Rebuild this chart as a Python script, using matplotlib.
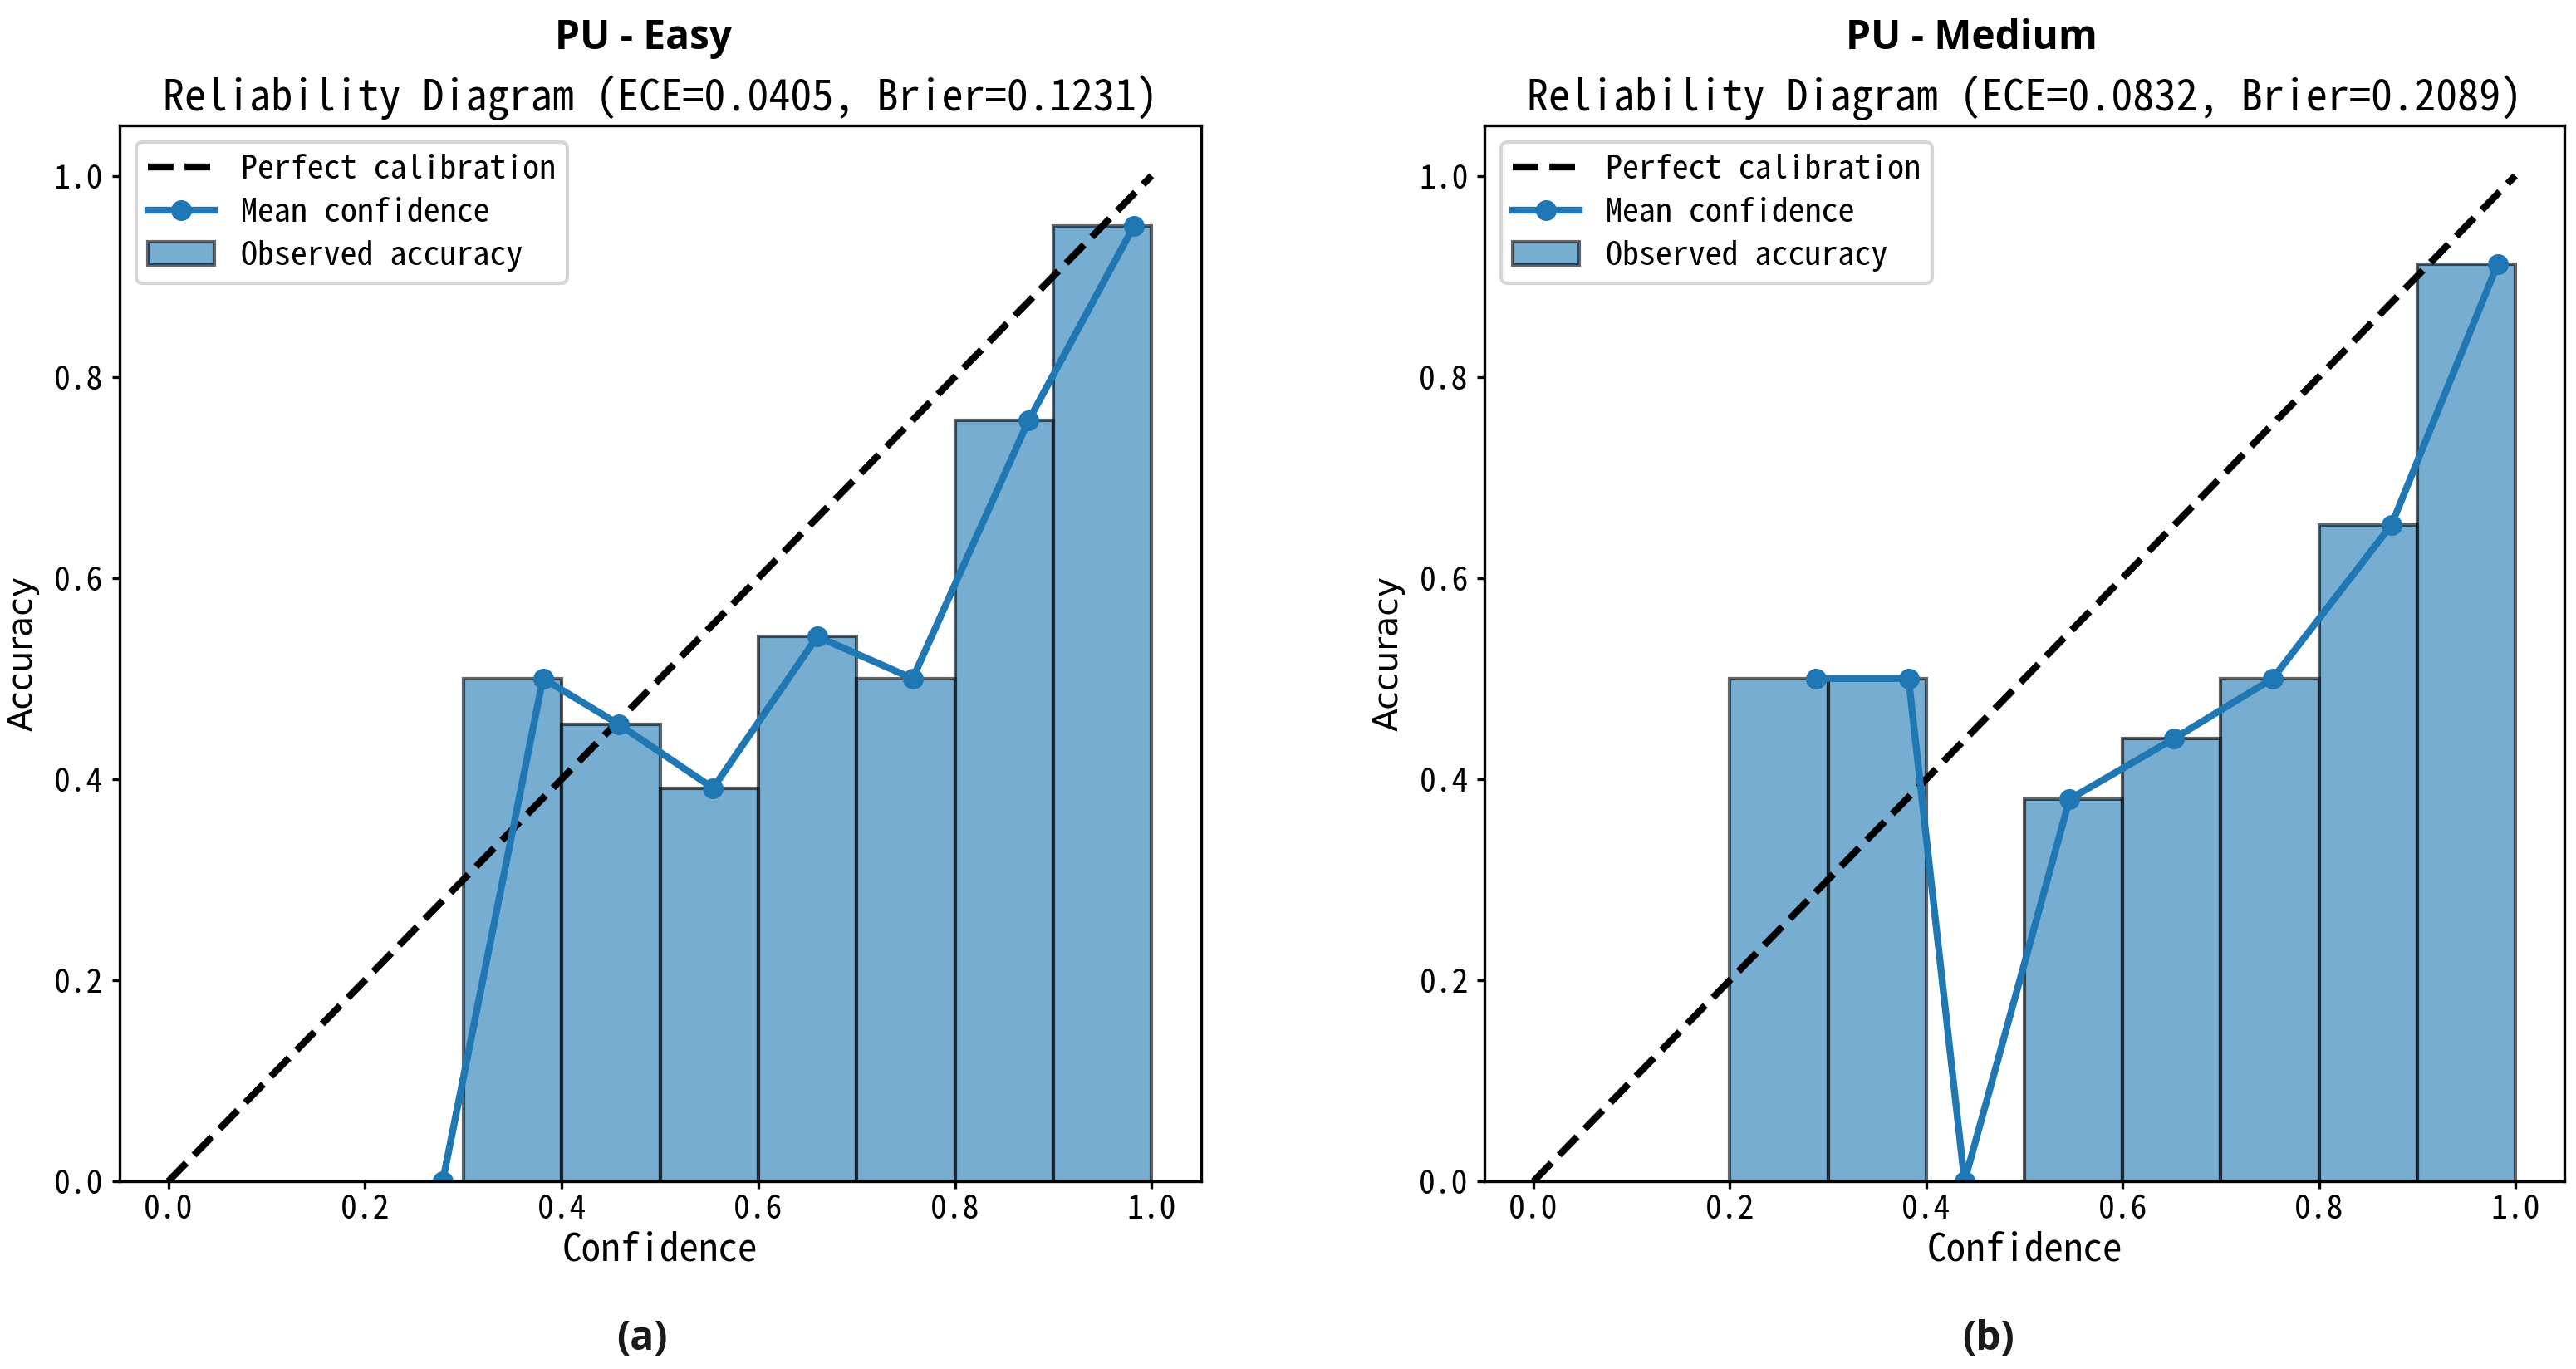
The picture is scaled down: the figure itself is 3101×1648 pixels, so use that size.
import matplotlib
matplotlib.use('Agg')
import matplotlib.pyplot as plt
from matplotlib.lines import Line2D
from matplotlib.patches import Patch

# fonts: CJK-ish mono look for most text
cjk = ['Noto Sans Mono CJK SC', 'Noto Sans CJK SC', 'DejaVu Sans']
plt.rcParams['font.family'] = cjk

#! Data
bin_lefts = [0.2, 0.3, 0.4, 0.5, 0.6, 0.7, 0.8, 0.9]

easy_acc = [0.0, 0.5, 0.4545, 0.391, 0.5417, 0.5, 0.7568, 0.95]
easy_conf = [0.279, 0.381, 0.458, 0.554, 0.66, 0.757, 0.875, 0.982]

medium_acc = [0.5, 0.5, 0.0, 0.38, 0.44, 0.5, 0.653, 0.912]
medium_conf = [0.288, 0.382, 0.439, 0.546, 0.652, 0.753, 0.874, 0.982]

titles = ['PU - Easy', 'PU - Medium']
subtitles = ['Reliability Diagram (ECE=0.0405, Brier=0.1231)',
             'Reliability Diagram (ECE=0.0832, Brier=0.2089)']
panel_tags = ['(a)', '(b)']

W, H = 3101, 1648
fig = plt.figure(figsize=(W / 300, H / 300), dpi=300)

ax_boxes = [(143.5, 1445.5), (1787, 3087)]
top_px, bottom_px = 151, 1422
title_x = [775, 2373]
tag_x = [773, 2393]

data = [(easy_acc, easy_conf), (medium_acc, medium_conf)]

for i, (acc, conf) in enumerate(data):
    x0, x1 = ax_boxes[i]
    ax = fig.add_axes([x0 / W, 1 - bottom_px / H, (x1 - x0) / W, (bottom_px - top_px) / H])

    ax.plot([0, 1], [0, 1], 'k--', lw=2)
    ax.bar(bin_lefts, acc, width=0.1, align='edge', color='C0', alpha=0.6, edgecolor='black')
    ax.plot(conf, acc, '-o', color='C0', lw=2, markersize=5)

    ax.set_xlim(-0.05, 1.05)
    ax.set_ylim(0, 1.05)
    ax.set_xticks([0, 0.2, 0.4, 0.6, 0.8, 1.0])
    ax.set_yticks([0, 0.2, 0.4, 0.6, 0.8, 1.0])
    ax.tick_params(labelsize=9.5, length=2.1)
    ax.tick_params(axis='x', pad=1.5)
    ax.tick_params(axis='y', pad=2.5)

    ax.set_xlabel('Confidence', fontsize=11.3, labelpad=1.5)
    ax.set_ylabel('Accuracy', fontsize=9.8, family=['DejaVu Sans'])
    ax.yaxis.set_label_coords(-95.5 / (x1 - x0), 0.5)
    ax.set_title(subtitles[i], fontsize=12.5, pad=4.3)

    handles = [Line2D([], [], color='k', ls='--', lw=2),
               Line2D([], [], color='C0', marker='o', lw=2, markersize=5),
               Patch(facecolor='C0', alpha=0.6, edgecolor='black')]
    ax.legend(handles, ['Perfect calibration', 'Mean confidence', 'Observed accuracy'],
              loc='upper left', fontsize=9.6, labelspacing=0.35, borderpad=0.35)

    fig.text(title_x[i] / W, 1 - 59 / H, titles[i], ha='center', va='baseline',
             fontsize=11.5, fontweight='bold', family=['Open Sans', 'DejaVu Sans'])
    fig.text(tag_x[i] / W, 1 - 1612 / H, panel_tags[i], ha='center', va='center',
             fontsize=11.5, fontweight='bold', color='#1a1a1a',
             family=['Open Sans', 'DejaVu Sans'])

fig.savefig('out.png', dpi=300)
